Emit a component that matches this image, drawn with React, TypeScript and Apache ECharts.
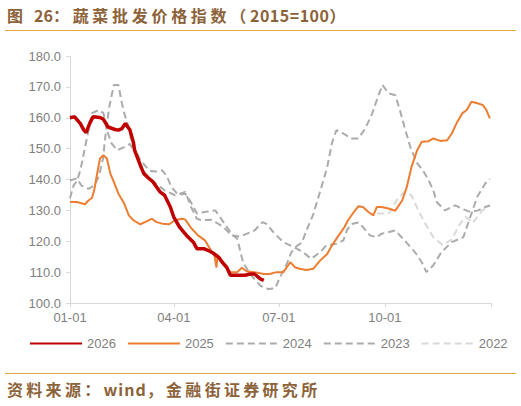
import React, { useEffect, useRef } from "react";
import * as echarts from "echarts";

// x = day of year (0 = 01-01), y = index value (2015 = 100)
const xTickDays = [0, 90, 181, 273, 365];
const xLabelDays = [0, 90, 181, 273];
const xLabelTexts = ["01-01", "04-01", "07-01", "10-01"];
const legendNames = ["2026", "2025", "2024", "2023", "2022"];

const s2026: [number, number][] = [
  [0, 160], [4, 160.3], [9, 158.1], [12, 156], [14, 155.2], [17, 158.1], [20, 160.3],
  [26, 160.1], [29, 159.5], [33, 157], [39, 156.2], [42, 156], [45, 156.5], [48, 158.1],
  [52, 156], [55, 152], [56, 149.5], [61, 144.6], [64, 141.9], [68, 140.5], [72, 139.2],
  [75, 137.6], [78, 136], [82, 134.9], [87, 131.1], [90, 127.8], [95, 124.6], [101, 121.9],
  [107, 119.7], [110, 117.6], [116, 117.6], [120, 117], [124, 116.2], [129, 114.8],
  [132, 113.2], [136, 111.5], [139, 109], [145, 109], [152, 109], [156, 109.4],
  [160, 109.4], [165, 107.8], [168, 107.3],
];

const s2025: [number, number][] = [
  [0, 132.7], [6, 132.7], [13, 132], [16, 133.2], [19, 134], [21, 136.5], [23, 140.8],
  [26, 146.8], [29, 147.9], [32, 146.8], [35, 141.9], [38, 139.2], [42, 135.4], [47, 132.2],
  [51, 128.4], [55, 126.8], [61, 125.5], [65, 126.2], [71, 127.3], [75, 126.2], [80, 125.7],
  [86, 125.5], [91, 126.8], [97, 127.3], [100, 127], [105, 124.3], [111, 121.9], [117, 120.3],
  [123, 116.5], [125, 116], [127, 111.5], [128, 115.5], [131, 113.5], [133, 112.7],
  [136, 111.1], [139, 110], [145, 110], [149, 111.4], [153, 110.3], [160, 110], [168, 109.4],
  [173, 109.4], [179, 110], [185, 110], [191, 113.2], [195, 111.6], [199, 111.1],
  [205, 110.7], [211, 111.1], [217, 113.8], [223, 115.9], [227, 118.6], [233, 121.9],
  [238, 124.6], [241, 126.8], [246, 129.4], [250, 131.3], [254, 131.1], [259, 129.4],
  [263, 128.4], [266, 131.1], [270, 131.1], [276, 130.6], [282, 129.9], [288, 133.2],
  [292, 137.6], [296, 144], [301, 149.5], [305, 152.2], [311, 152.4], [315, 153.3],
  [321, 152.5], [327, 152.7], [331, 154.9], [335, 158.1], [340, 161.4], [344, 162.5],
  [348, 165.2], [354, 164.6], [358, 164.1], [361, 162.5], [364, 159.8],
];

const s2024: [number, number][] = [
  [0, 139.7], [6, 140.4], [10, 138], [16, 137], [21, 138], [25, 141], [29, 147.4],
  [30, 152], [34, 163.4], [38, 170.6], [42, 170.6], [45, 164.7], [47, 161.5], [50, 158],
  [53, 153], [56, 150], [60, 147], [65, 144.5], [69, 142.8], [75, 142.6], [80, 143],
  [84, 141], [88, 137.5], [94, 135], [100, 135.4], [104, 133.2], [110, 129], [117, 129.5],
  [126, 130], [134, 125.7], [140, 122.4], [145, 120.8], [150, 113.2], [156, 109.4],
  [165, 105.6], [172, 104.5], [178, 104.8], [182, 108.3], [188, 112.7], [192, 116.5],
  [197, 118.6], [201, 119.5], [205, 123.5], [211, 128.8], [218, 137.6], [223, 144],
  [227, 151.7], [231, 156], [237, 154.9], [244, 153.3], [250, 153.3], [256, 156.5],
  [262, 161.4], [267, 166.8], [271, 170.6], [276, 167.9], [282, 167.3], [286, 162.5],
  [290, 157], [295, 150.6], [301, 145.2], [306, 143], [311, 139.7], [315, 136.5],
  [318, 132.7], [325, 130], [334, 131.6], [340, 130.5], [347, 129.5], [354, 130],
  [360, 131.1], [364, 131.6],
];

const s2023: [number, number][] = [
  [0, 133.9], [3, 138], [6, 139.5], [9, 143], [15, 154], [19, 161.5], [25, 162.5],
  [29, 161.5], [32, 156], [36, 151.7], [41, 149.5], [47, 150.5], [52, 151.5], [56, 149],
  [60, 145.5], [66, 141.5], [75, 138.5], [82, 136.5], [91, 134.9], [100, 136],
  [105, 131.1], [110, 127.3], [114, 126.8], [122, 127], [127, 126], [133, 124.6],
  [140, 121.9], [147, 121.5], [153, 122.4], [160, 123.5], [167, 126.2], [171, 125.5],
  [175, 123.5], [179, 121.9], [185, 119.7], [194, 118.1], [202, 116.5], [209, 114.3],
  [217, 116.5], [222, 118.6], [231, 119.2], [237, 120.3], [240, 123.5], [244, 125.6],
  [250, 126.1], [254, 124.6], [260, 121.9], [266, 121.3], [270, 122.4], [282, 123.5],
  [290, 120.3], [299, 116.5], [305, 113.2], [309, 110], [315, 112.2], [322, 116.5],
  [331, 119.7], [341, 121.3], [347, 127.8], [353, 134.3], [360, 138.7], [364, 140.2],
];

const s2022: [number, number][] = [
  [266, 129], [271, 129], [277, 129.2], [284, 133.8], [290, 136], [296, 134.9],
  [302, 130], [308, 125.7], [315, 121.3], [323, 118.8], [331, 120.5], [337, 125],
  [343, 128], [349, 125.9], [357, 129.8], [364, 131.6],
];

const FONT = "'Liberation Sans', Arial, sans-serif";
const CJK = "'Noto Sans CJK SC', sans-serif";
const BROWN = "#8C6239";
const GOLD = "#E0A845";

export default function App() {
  const ref = useRef<HTMLDivElement>(null);

  useEffect(() => {
    document.body.style.margin = "0";
    if (!ref.current) return;
    const chart = echarts.init(ref.current, null, { renderer: "svg" });
    const line = (name: string, data: [number, number][], color: string, width: number, dashed: boolean, z: number) => ({
      name,
      type: "line",
      data,
      showSymbol: false,
      symbol: "none",
      z,
      lineStyle: { color, width, type: dashed ? [7, 4] : "solid", cap: "butt" },
      itemStyle: { color },
    });
    chart.setOption({
      animation: false,
      backgroundColor: "#ffffff",
      grid: { left: 70, right: 30, top: 56, bottom: 103, containLabel: false },
      legend: {
        data: legendNames,
        left: 24,
        top: 332,
        width: 497,
        itemWidth: 52,
        itemHeight: 14,
        itemGap: 11,
        itemStyle: { opacity: 0 },
        textStyle: { color: "#808080", fontSize: 13, fontFamily: FONT },
      },
      xAxis: {
        type: "value",
        min: 0,
        max: 365,
        splitLine: { show: false },
        axisLine: { show: true, lineStyle: { color: "#D9D9D9", width: 1 } },
        axisTick: { show: true, length: 4, customValues: xTickDays, lineStyle: { color: "#D9D9D9" } },
        axisLabel: {
          customValues: xLabelDays,
          margin: 8,
          color: "#808080",
          fontSize: 13,
          fontFamily: FONT,
          formatter: (v: number) => {
            const i = xLabelDays.indexOf(Math.round(v));
            return i >= 0 ? xLabelTexts[i] : "";
          },
        },
      },
      yAxis: {
        type: "value",
        min: 100,
        max: 180,
        interval: 10,
        splitLine: { show: false },
        axisLine: { show: true, lineStyle: { color: "#D9D9D9", width: 1 } },
        axisTick: { show: true, length: 4, lineStyle: { color: "#D9D9D9" } },
        axisLabel: {
          margin: 9,
          color: "#808080",
          fontSize: 13,
          fontFamily: FONT,
          formatter: (v: number) => v.toFixed(1),
        },
      },
      series: [
        line("2022", s2022, "#D9D9D9", 2, true, 1),
        line("2023", s2023, "#ABABAB", 2, true, 2),
        line("2024", s2024, "#ABABAB", 2, true, 3),
        line("2025", s2025, "#ED7D31", 2, false, 4),
        line("2026", s2026, "#C00000", 3.5, false, 5),
      ],
    });
    return () => chart.dispose();
  }, []);

  const sp = (t: string, ls: string) => <span style={{ letterSpacing: ls }}>{t}</span>;

  return (
    <div style={{ position: "relative", width: 521, height: 406, background: "#fff", overflow: "hidden" }}>
      <div ref={ref} style={{ position: "absolute", left: 0, top: 0, width: 521, height: 406 }} />
      <div
        style={{
          position: "absolute", left: 7, top: 7, fontFamily: CJK, fontWeight: 700, fontSize: 16,
          lineHeight: "17px", color: BROWN, whiteSpace: "nowrap",
        }}
      >
        {sp("图 ", "3.7px")}{sp("26", "0px")}{sp("：蔬菜批发价格指数（", "3.7px")}{sp("2015=100", "0.5px")}{sp("）", "0px")}
      </div>
      <div style={{ position: "absolute", left: 5, top: 30, width: 511, height: 1, background: GOLD }} />
      <div style={{ position: "absolute", left: 5, top: 373, width: 511, height: 1, background: GOLD }} />
      <div
        style={{
          position: "absolute", left: 7, top: 381, fontFamily: CJK, fontWeight: 700, fontSize: 16,
          lineHeight: "17px", color: BROWN, whiteSpace: "nowrap",
        }}
      >
        {sp("资料来源：", "3.3px")}{sp("wind", "1px")}{sp("，金融街证券研究所", "3.3px")}
      </div>
    </div>
  );
}
